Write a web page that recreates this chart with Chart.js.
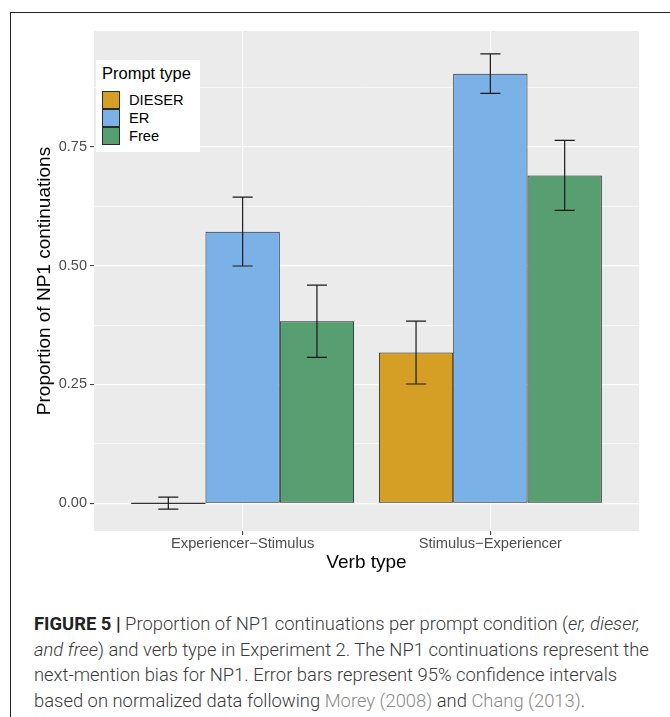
<!DOCTYPE html>
<html>
<head>
<meta charset="utf-8">
<script src="https://cdn.jsdelivr.net/npm/chart.js@4"></script>
<style>
  body { margin: 0; background: #fff; }
  #page { position: relative; width: 670px; height: 717px; overflow: hidden; }
  #frame { position: absolute; left: 10px; top: 12px; width: 700px; height: 740px;
           border-top: 1.4px solid #222; border-left: 1.4px solid #222; }
  #wrap { position: absolute; left: 0; top: 0; width: 670px; height: 600px; }
  #legend { position: absolute; left: 96px; top: 60px; width: 104px; height: 92px;
            background: #fff; font-family: "Liberation Sans", Arial, sans-serif; color: #000; }
  #legend .title { position: absolute; left: 6px; top: 4px; font-size: 16.5px; }
  #legend .row { position: absolute; left: 6px; height: 18px; font-size: 14.7px; }
  #legend .key { position: absolute; left: 0; top: 0; width: 16px; height: 16.5px; border: 1px solid #2a2a2a; }
  #legend .lab { position: absolute; left: 27px; top: 0; line-height: 18px; white-space: nowrap; }
  #caption { position: absolute; left: 34px; top: 611px; font-family: "Roboto", "Liberation Sans", sans-serif;
             font-weight: 300; font-size: 18.4px; line-height: 25.5px; color: #3a3a3a; white-space: nowrap; }
  #caption b { font-weight: 700; color: #222; }
  #caption .ref { color: #8a8a8a; }
</style>
</head>
<body>
<div id="page">
  <div id="frame"></div>
  <div id="wrap"><canvas id="chart"></canvas></div>
  <div id="legend"></div>
  <div id="caption">
    <b>FIGURE 5 |</b> Proportion of NP1 continuations per prompt condition (<i>er, dieser,</i><br>
    <i>and free</i>) and verb type in Experiment 2. The NP1 continuations represent the<br>
    next-mention bias for NP1. Error bars represent 95% confidence intervals<br>
    based on normalized data following <span class="ref">Morey (2008)</span> and <span class="ref">Chang (2013)</span>.
  </div>
</div>
<script>
const categories = ["Experiencer\u2212Stimulus", "Stimulus\u2212Experiencer"];
const promptTypes = ["DIESER", "ER", "Free"];
const promptColors = ["#D49F24", "#7AB2E7", "#579E71"];

const dieserValues = [0, 0.317];
const dieserLow = [-0.012, 0.251];
const dieserHigh = [0.013, 0.383];

const erValues = [0.571, 0.903];
const erLow = [0.499, 0.862];
const erHigh = [0.644, 0.945];

const freeValues = [0.383, 0.689];
const freeLow = [0.307, 0.616];
const freeHigh = [0.459, 0.763];

const yMajorTicks = [0, 0.25, 0.5, 0.75];
const yMinorTicks = [0.125, 0.375, 0.625, 0.875];

const seriesValues = [dieserValues, erValues, freeValues];
const seriesLow = [dieserLow, erLow, freeLow];
const seriesHigh = [dieserHigh, erHigh, freeHigh];

// legend (inside the panel, like ggplot)
var legend = document.getElementById("legend");
var html = '<div class="title">Prompt type</div>';
promptTypes.forEach((name, i) => {
    html += '<div class="row" style="top:' + (30.5 + i * 18) + 'px">' +
        '<div class="key" style="background:' + promptColors[i] + '"></div>' +
        '<div class="lab">' + name + '</div></div>';
});
legend.innerHTML = html;

var panelBg = {
    id: "panelBg",
    beforeDraw(chart) {
        const a = chart.chartArea;
        chart.ctx.save();
        chart.ctx.fillStyle = "#EBEBEB";
        chart.ctx.fillRect(a.left, a.top, a.right - a.left, a.bottom - a.top);
        chart.ctx.restore();
    },
};

var errorBars = {
    id: "errorBars",
    afterDatasetsDraw(chart) {
        const ctx = chart.ctx;
        const y = chart.scales.y;
        ctx.save();
        chart.data.datasets.forEach((ds, i) => {
            const meta = chart.getDatasetMeta(i);
            meta.data.forEach((bar, j) => {
                const half = bar.width / 2;
                // zero-height bars still show their outline as a line
                if (Math.abs(bar.base - bar.y) < 1) {
                    ctx.strokeStyle = "#333";
                    ctx.lineWidth = 1.1;
                    ctx.beginPath();
                    ctx.moveTo(bar.x - half, bar.y);
                    ctx.lineTo(bar.x + half, bar.y);
                    ctx.stroke();
                }
                const hi = y.getPixelForValue(seriesHigh[i][j]);
                const lo = y.getPixelForValue(seriesLow[i][j]);
                const w = bar.width * 0.135;
                ctx.strokeStyle = "#1a1a1a";
                ctx.lineWidth = 1.2;
                ctx.beginPath();
                ctx.moveTo(bar.x, hi);
                ctx.lineTo(bar.x, lo);
                ctx.moveTo(bar.x - w, hi);
                ctx.lineTo(bar.x + w, hi);
                ctx.moveTo(bar.x - w, lo);
                ctx.lineTo(bar.x + w, lo);
                ctx.stroke();
            });
        });
        ctx.restore();
    },
};

Chart.defaults.font.family = "'Liberation Sans', Arial, sans-serif";

var ctx = document.getElementById("chart");
var myChart = new Chart(ctx, {
    type: "bar",
    data: {
        datasets: promptTypes.map((name, i) => ({
            label: name,
            data: seriesValues[i].map((v, j) => ({ x: j + 1, y: v })),
            backgroundColor: promptColors[i],
            borderColor: "#222",
            borderWidth: 1,
            borderSkipped: false,
            categoryPercentage: 0.9,
            barPercentage: 1.0,
        })),
    },
    plugins: [panelBg, errorBars],
    options: {
        responsive: true,
        maintainAspectRatio: false,
        animation: false,
        layout: {
            padding: { left: 0, right: 31, top: 31, bottom: 0 },
        },
        plugins: {
            legend: { display: false },
            tooltip: { enabled: false },
        },
        scales: {
            x: {
                type: "linear",
                min: 0.4,
                max: 2.6,
                offset: false,
                afterBuildTicks: (scale) => {
                    scale.ticks = categories.map((c, i) => ({ value: i + 1 }));
                },
                afterFit: (scale) => {
                    scale.height = 69;
                },
                ticks: {
                    callback: (v) => categories[v - 1],
                    color: "#4D4D4D",
                    font: { size: 14.7 },
                    padding: 0,
                    maxRotation: 0,
                },
                grid: {
                    offset: false,
                    color: "#FFFFFF",
                    lineWidth: 1.2,
                    tickColor: "#333",
                    tickLength: 4,
                    tickWidth: 1,
                },
                border: { display: false },
                title: {
                    display: true,
                    text: "Verb type",
                    color: "#000",
                    font: { size: 19 },
                    padding: { top: 0, bottom: 26 },
                },
            },
            y: {
                min: -0.058,
                max: 0.993,
                afterBuildTicks: (scale) => {
                    scale.ticks = yMajorTicks.concat(yMinorTicks).sort((a, b) => a - b).map((v) => ({ value: v }));
                },
                afterFit: (scale) => {
                    scale.width = 94;
                },
                ticks: {
                    callback: (v) => (yMajorTicks.includes(v) ? v.toFixed(2) : ""),
                    color: "#4D4D4D",
                    font: { size: 14.5 },
                    padding: 3,
                },
                grid: {
                    color: "#FFFFFF",
                    lineWidth: (c) => (yMajorTicks.includes(c.tick.value) ? 1.2 : 0.6),
                    tickColor: (c) => (yMajorTicks.includes(c.tick.value) ? "#333" : "rgba(0,0,0,0)"),
                    tickLength: 4,
                    tickWidth: 1,
                },
                border: { display: false },
                title: {
                    display: true,
                    text: "Proportion of NP1 continuations",
                    color: "#000",
                    font: { size: 19 },
                    padding: { top: 33, bottom: 0 },
                },
            },
        },
    },
});
</script>
</body>
</html>
